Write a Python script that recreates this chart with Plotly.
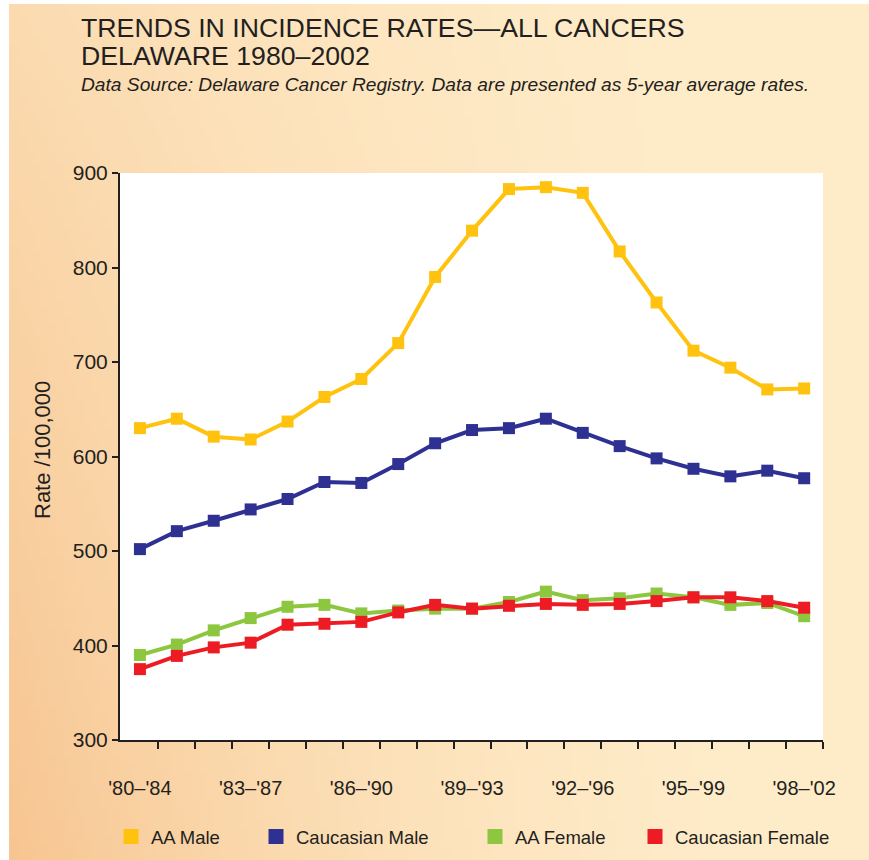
import zlib, struct, base64
import plotly.graph_objects as go

# ---------------- data ----------------
periods = ["'80–'84", "'81–'85", "'82–'86", "'83–'87", "'84–'88", "'85–'89", "'86–'90",
           "'87–'91", "'88–'92", "'89–'93", "'90–'94", "'91–'95", "'92–'96", "'93–'97",
           "'94–'98", "'95–'99", "'96–'00", "'97–'01", "'98–'02"]
label_every = 3

aa_male = [630, 640, 621, 618, 637, 663, 682, 720, 790, 839, 883, 885, 879, 817, 763, 712, 694, 671, 672]
cauc_male = [502, 521, 532, 544, 555, 573, 572, 592, 614, 628, 630, 640, 625, 611, 598, 587, 579, 585, 577]
aa_female = [390, 401, 416, 429, 441, 443, 434, 437, 439, 439, 446, 457, 448, 450, 455, 451, 443, 445, 431]
cauc_female = [375, 389, 398, 403, 422, 423, 425, 435, 443, 439, 442, 444, 443, 444, 447, 451, 451, 447, 440]

series_names = ["AA Male", "Caucasian Male", "AA Female", "Caucasian Female"]
series_values = [aa_male, cauc_male, aa_female, cauc_female]
series_colors = ["#FFC20E", "#2E3192", "#8DC63F", "#ED1C24"]

y_ticks = [300, 400, 500, 600, 700, 800, 900]

# ---------------- layout geometry (pixels) ----------------
W, H = 869, 860
L, R, T, B = 120, 823, 173, 740
pw, ph = R - L, B - T

def px_x(x):
    return (x - L) / pw

def px_y(y):
    return (B - y) / ph

INK = "#231F20"
FONT = "Liberation Sans, Arial, sans-serif"

# ---------------- background gradient image ----------------
def bg_png(w, h):
    cream = (254, 236, 201)
    orange = (247, 197, 145)
    rows = []
    for j in range(h):
        fy = j / (h - 1)
        row = bytearray(b"\x00")
        for i in range(w):
            fx = i / (w - 1)
            t = (1 - fx) ** 2.0 * (0.45 + 0.55 * fy)
            row.extend(int(round(cream[k] + (orange[k] - cream[k]) * t)) for k in range(3))
        rows.append(bytes(row))
    raw = b"".join(rows)

    def chunk(tag, data):
        return (struct.pack(">I", len(data)) + tag + data +
                struct.pack(">I", zlib.crc32(tag + data) & 0xFFFFFFFF))

    png = (b"\x89PNG\r\n\x1a\n" +
           chunk(b"IHDR", struct.pack(">IIBBBBB", w, h, 8, 2, 0, 0, 0)) +
           chunk(b"IDAT", zlib.compress(raw, 9)) + chunk(b"IEND", b""))
    return "data:image/png;base64," + base64.b64encode(png).decode()

fig = go.Figure()

x_idx = list(range(len(periods)))
for name, vals, col in zip(series_names, series_values, series_colors):
    fig.add_trace(go.Scatter(
        x=x_idx, y=vals, mode="lines+markers", name=name,
        line=dict(color=col, width=4),
        marker=dict(symbol="square", size=12, color=col),
        showlegend=False, hovertemplate=name + ": %{y}<extra></extra>"))

# legend-only entries, each in its own legend for exact placement
legend_centers = [132, 277, 496, 656]
legend_keys = ["legend", "legend2", "legend3", "legend4"]
for name, col, key in zip(series_names, series_colors, legend_keys):
    fig.add_trace(go.Scatter(
        x=[None], y=[None], mode="markers", name=name,
        marker=dict(symbol="square", size=15, color=col),
        showlegend=True, legend=key))

legend_common = dict(orientation="h", yanchor="middle", y=px_y(837), xanchor="left",
                     bgcolor="rgba(0,0,0,0)", font=dict(family=FONT, size=18.5, color=INK),
                     borderwidth=0)
leg_layout = {}
for key, cx in zip(legend_keys, legend_centers):
    leg_layout[key] = dict(legend_common, x=px_x(cx - 21))

fig.update_layout(**leg_layout)

fig.update_layout(
    width=W, height=H,
    margin=dict(l=L, r=W - R, t=T, b=H - B, pad=0, autoexpand=False),
    paper_bgcolor="white",
    plot_bgcolor="white",
    font=dict(family=FONT, color=INK),
    xaxis=dict(
        range=[-0.54, 18.51], showgrid=False, zeroline=False,
        showline=True, linecolor=INK, linewidth=2,
        tickmode="array",
        tickvals=x_idx[::label_every], ticktext=periods[::label_every],
        ticks="", ticklabelstandoff=29,
        tickfont=dict(family=FONT, size=20, color=INK),
        minor=dict(tickmode="array", tickvals=[i + 0.5 for i in x_idx],
                   ticks="outside", ticklen=7, tickwidth=2, tickcolor=INK, showgrid=False),
    ),
    yaxis=dict(
        range=[300, 900], tickvals=y_ticks, showgrid=False, zeroline=False,
        showline=True, linecolor=INK, linewidth=2,
        ticks="outside", ticklen=6, tickwidth=2, tickcolor=INK,
        tickfont=dict(family=FONT, size=21, color=INK),
    ),
    images=[dict(source=bg_png(120, 120), xref="paper", yref="paper",
                 x=px_x(9), y=px_y(4), sizex=(W - 9) / pw, sizey=(H - 4) / ph,
                 xanchor="left", yanchor="top", sizing="stretch", layer="below")],
    shapes=[dict(type="rect", xref="paper", yref="paper", x0=0, x1=1, y0=0, y1=1,
                 fillcolor="white", line=dict(width=0), layer="below")],
    annotations=[
        dict(text="TRENDS IN INCIDENCE RATES—ALL CANCERS", xref="paper", yref="paper",
             x=px_x(79), y=px_y(27.5), xanchor="left", yanchor="middle", showarrow=False,
             font=dict(family=FONT, size=26.7, color=INK)),
        dict(text="DELAWARE 1980–2002", xref="paper", yref="paper",
             x=px_x(79), y=px_y(56), xanchor="left", yanchor="middle", showarrow=False,
             font=dict(family=FONT, size=26.7, color=INK)),
        dict(text="<i>Data Source: Delaware Cancer Registry. Data are presented as 5-year average rates.</i>",
             xref="paper", yref="paper",
             x=px_x(79), y=px_y(84), xanchor="left", yanchor="middle", showarrow=False,
             font=dict(family=FONT, size=19.2, color=INK)),
        dict(text="Rate /100,000", xref="paper", yref="paper", textangle=-90,
             x=px_x(42), y=px_y(450), xanchor="center", yanchor="middle", showarrow=False,
             font=dict(family=FONT, size=22, color=INK)),
    ],
)

fig.write_html("out.html", config={"displayModeBar": False},
               post_script="document.body.style.margin='0';")
